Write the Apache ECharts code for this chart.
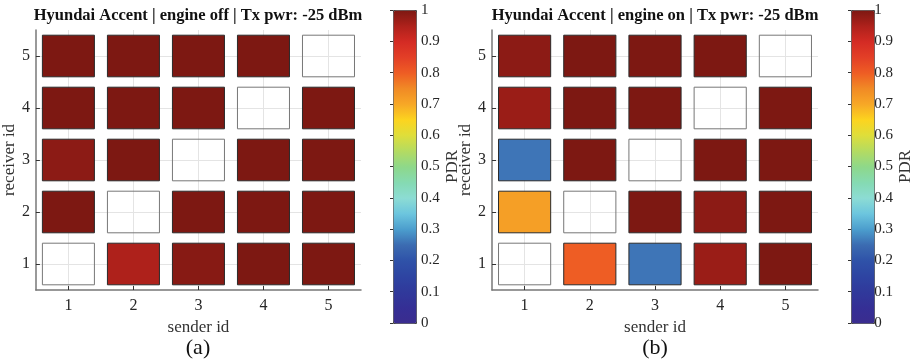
<!DOCTYPE html>
<html>
<head>
<meta charset="utf-8">
<script src="https://cdn.jsdelivr.net/npm/echarts@6/dist/echarts.min.js"></script>
<style>
  html, body { margin: 0; padding: 0; background: #fff; }
  #main { width: 915px; height: 364px; }
</style>
</head>
<body>
<div id="main"></div>
<script>
var senderIds = [1, 2, 3, 4, 5];
var receiverIds = [1, 2, 3, 4, 5];
// rows: receiver id 1..5, columns: sender id 1..5, null = no link (self)
var pdrEngineOff = [
    [null, 0.95, 0.99, 1, 1],
    [1, null, 1, 1, 1],
    [0.985, 1, null, 1, 1],
    [1, 1, 1, null, 1],
    [1, 1, 1, 1, null]
];
var pdrEngineOn = [
    [null, 0.80, 0.26, 0.97, 1],
    [0.715, null, 1, 0.985, 1],
    [0.26, 1, null, 1, 1],
    [0.97, 1, 1, null, 1],
    [0.985, 1, 1, 1, null]
];
var titles = [
    'Hyundai Accent | engine off | Tx pwr: -25 dBm',
    'Hyundai Accent | engine on | Tx pwr: -25 dBm'
];
var panelTags = ['(a)', '(b)'];

// colormap of the colorbar, 0 -> 1 in steps of 0.05
var pdrColors = ['#3a2c8f', '#352f95', '#30399b', '#2e44a2', '#2f52a8', '#3b6bb1', '#4b9dcd',
    '#6cc5de', '#8cdcd4', '#85dab2', '#8ed88a', '#b3db62', '#dede3b', '#fcd41f', '#f7a826',
    '#f18a25', '#ee5d24', '#e33f27', '#d42b24', '#ae211b', '#7d1812'];

var FONT = 'Liberation Serif';

function toCells(matrix) {
    var out = [];
    for (var r = 0; r < receiverIds.length; r++) {
        for (var s = 0; s < senderIds.length; s++) {
            var v = matrix[r][s];
            out.push([senderIds[s], receiverIds[r], v === null ? '-' : v]);
        }
    }
    return out;
}

function renderCell(params, api) {
    var c = api.coord([api.value(0), api.value(1)]);
    var sz = api.size([0.8, 0.8]);
    var v = api.value(2);
    var empty = isNaN(v);
    return {
        type: 'rect',
        shape: {x: c[0] - sz[0] / 2, y: c[1] - sz[1] / 2, width: sz[0], height: sz[1]},
        style: {
            fill: empty ? 'rgba(0,0,0,0)' : api.visual('color'),
            stroke: empty ? '#777' : '#2a2a2a',
            lineWidth: 1
        }
    };
}

var panels = [
    {grid: {left: 35, top: 30, width: 326, height: 260}, bar: 393, data: pdrEngineOff},
    {grid: {left: 492, top: 30, width: 326, height: 260}, bar: 851, data: pdrEngineOn}
];

var grid = [], xAxis = [], yAxis = [], series = [], visualMap = [], graphic = [];

panels.forEach(function (p, i) {
    grid.push(p.grid);
    xAxis.push({
        type: 'value', gridIndex: i * 2, min: 0.5, max: 5.5,
        name: 'sender id', nameLocation: 'middle', nameGap: 20,
        nameTextStyle: {fontFamily: FONT, fontSize: 17, color: '#333'},
        axisLine: {show: true, onZero: false, lineStyle: {color: '#777', width: 1.5}},
        axisTick: {show: true, inside: true, length: 4, customValues: senderIds, lineStyle: {color: '#333'}},
        axisLabel: {customValues: senderIds, fontFamily: FONT, fontSize: 16, color: '#262626', margin: 8},
        splitLine: {show: true, lineStyle: {color: '#e4e4e4'}}
    });
    yAxis.push({
        type: 'value', gridIndex: i * 2, min: 0.5, max: 5.5,
        name: 'receiver id', nameLocation: 'middle', nameGap: 16,
        nameTextStyle: {fontFamily: FONT, fontSize: 17, color: '#333'},
        axisLine: {show: true, onZero: false, lineStyle: {color: '#777', width: 1.5}},
        axisTick: {show: true, inside: true, length: 4, customValues: receiverIds, lineStyle: {color: '#333'}},
        axisLabel: {customValues: receiverIds, fontFamily: FONT, fontSize: 16, color: '#262626', margin: 6},
        splitLine: {show: true, lineStyle: {color: '#e4e4e4'}}
    });
    series.push({
        type: 'custom', xAxisIndex: i * 2, yAxisIndex: i * 2,
        renderItem: renderCell,
        encode: {x: 0, y: 1},
        data: toCells(p.data)
    });

    // colorbar: visualMap bar + an axis laid over it for the ticks
    grid.push({left: p.bar, top: 10, width: 23, height: 313});
    xAxis.push({type: 'value', gridIndex: i * 2 + 1, show: false, min: 0, max: 1});
    yAxis.push({
        type: 'value', gridIndex: i * 2 + 1, position: 'right', min: 0, max: 1, interval: 0.1,
        name: 'PDR', nameLocation: 'middle', nameRotate: 90, nameGap: 25,
        nameTextStyle: {fontFamily: FONT, fontSize: 17, color: '#333'},
        axisLine: {show: false},
        axisTick: {show: true, inside: true, length: 3, lineStyle: {color: '#333'}},
        axisLabel: {fontFamily: FONT, fontSize: 15, color: '#262626', margin: 5},
        splitLine: {show: false}
    });
    visualMap.push({
        type: 'continuous', seriesIndex: i, min: 0, max: 1,
        orient: 'vertical', left: p.bar, top: 10,
        itemWidth: 23, itemHeight: 313, padding: 0,
        calculable: false, hoverLink: false, text: null,
        borderColor: '#444', borderWidth: 1,
        inRange: {color: pdrColors}
    });

    var cx = p.grid.left + p.grid.width / 2;
    graphic.push({
        type: 'text', x: cx, y: 16,
        style: {text: titles[i], fontFamily: FONT, fontWeight: 'bold', fontSize: 16.5, fill: '#111',
            align: 'center', verticalAlign: 'middle'}
    });
    graphic.push({
        type: 'text', x: cx, y: 348,
        style: {text: panelTags[i], fontFamily: FONT, fontSize: 22, fill: '#111',
            align: 'center', verticalAlign: 'middle'}
    });
});

var myChart = echarts.init(document.getElementById('main'), null, {renderer: 'canvas'});
myChart.setOption({
    backgroundColor: '#fff',
    animation: false,
    grid: grid,
    xAxis: xAxis,
    yAxis: yAxis,
    visualMap: visualMap,
    series: series,
    graphic: graphic
});
</script>
</body>
</html>
